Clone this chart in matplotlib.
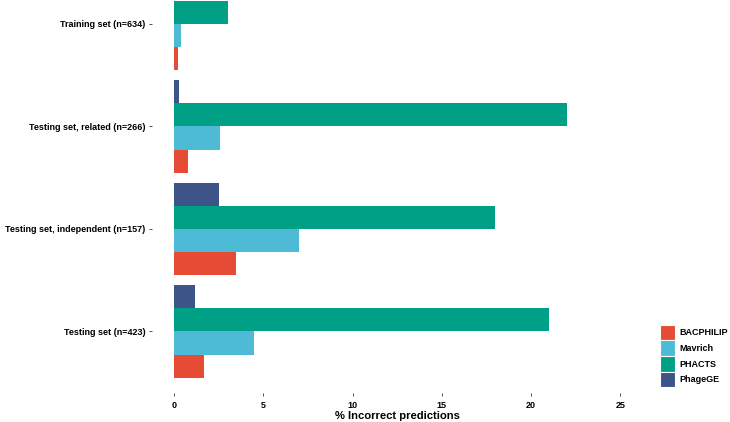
import numpy as np
import matplotlib
matplotlib.use("Agg")
import matplotlib.pyplot as plt
from matplotlib.patches import Patch

plt.rcParams['font.family'] = ['Liberation Sans', 'DejaVu Sans']
plt.rcParams['font.weight'] = 'bold'

# categories, bottom to top
categories = ['Testing set (n=423)', 'Testing set, independent (n=157)',
              'Testing set, related (n=266)', 'Training set (n=634)']
methods = ['BACPHILIP', 'Mavrich', 'PHACTS', 'PhageGE']
colors = ['#E64B35', '#4DBBD5', '#00A087', '#3C5488']

bacphilip = [1.7, 3.5, 0.8, 0.2]
mavrich = [4.5, 7.0, 2.6, 0.4]
phacts = [21.0, 18.0, 22.0, 3.0]
phagege = [1.2, 2.5, 0.3, 0.0]
values = [bacphilip, mavrich, phacts, phagege]

fig = plt.figure(figsize=(7.3, 4.22), dpi=100)
ax = fig.add_axes([151.7 / 730, 29 / 422, (642.6 - 151.7) / 730, 393 / 422])

pos = np.arange(1, len(categories) + 1)
w = 0.225
for i, (vals, c) in enumerate(zip(values, colors)):
    ax.barh(pos + (i - 1.5) * w, vals, height=w, color=c, linewidth=0)

ax.set_xlim(-1.25, 26.25)
ax.set_ylim(0.4, 4.234)
ax.set_yticks(pos)
ax.set_yticklabels(categories)
ax.set_xticks([0, 5, 10, 15, 20, 25])
for s in ax.spines.values():
    s.set_visible(False)
ax.tick_params(length=2.5, width=0.6, color='#333333', labelsize=6.5,
               labelcolor='black', pad=2)
ax.tick_params(axis='x', pad=3)
ax.set_xlabel('% Incorrect predictions', fontsize=8.1, fontweight='bold', labelpad=1)

handles = [Patch(facecolor=c, edgecolor='white', linewidth=0.8) for c in colors]
fig.legend(handles, methods, loc='center left', bbox_to_anchor=(655 / 730, 1 - 356 / 422),
           frameon=False, fontsize=6.5, handlelength=1.75, handleheight=2.3,
           handletextpad=0.5, labelspacing=0.0, borderpad=0)

fig.savefig('out.png', dpi=100)
